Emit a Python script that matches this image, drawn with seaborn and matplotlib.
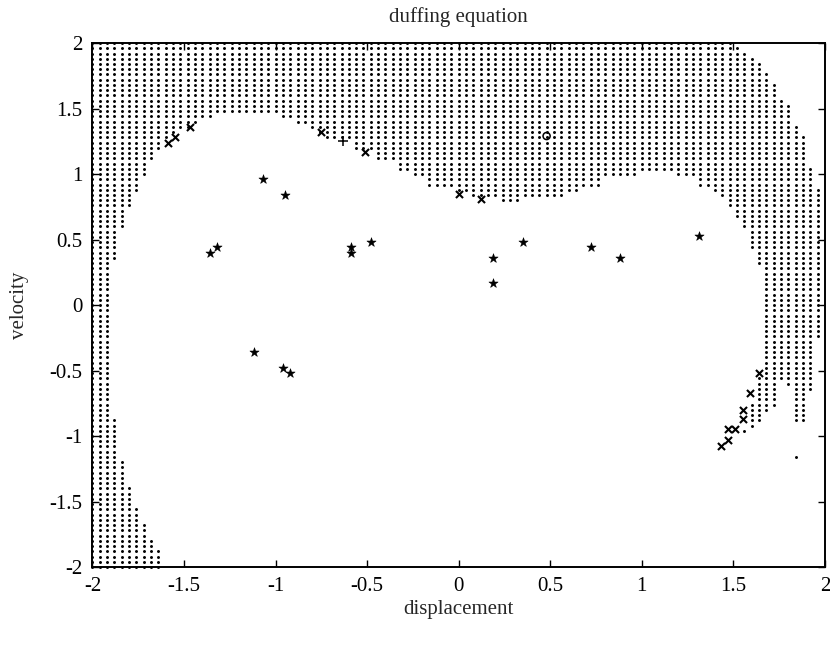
import numpy as np
import pandas as pd
import matplotlib
matplotlib.use("Agg")
import matplotlib.pyplot as plt
import seaborn as sns

# ---------------- data ----------------
tick_values = [-2, -1.5, -1, -0.5, 0, 0.5, 1, 1.5, 2]
tick_labels = ['-2', '-1.5', '-1', '-0.5', '0', '0.5', '1', '1.5', '2']

# basin grid: columns x = -2 + 0.04k (k = 0..100), rows y = -2 + 0.04j
# lowest dotted row of the upper (top) region in each column
upper_low = ([-2.0] * 3 +
             [0.36, 0.60, 0.76, 0.88, 1.00, 1.12, 1.20, 1.28, 1.32, 1.36, 1.36, 1.40, 1.44, 1.44] +
             [1.48] * 9 + [1.44] * 2 + [1.40] * 2 + [1.36, 1.32] + [1.28] * 4 +
             [1.20] * 3 + [1.12] * 3 + [1.04] * 2 + [1.00] * 2 + [0.92] * 4 +
             [0.88] * 2 + [0.84] * 4 + [0.80] * 3 + [0.84] * 6 + [0.88] * 2 +
             [0.92] * 3 + [1.00] * 5 + [1.04] * 5 + [1.00] * 3 + [0.92] * 2 +
             [0.88, 0.84, 0.76, 0.68, 0.60, 0.44, 0.32] +
             [-0.80, -0.76, -0.56, -0.60, -0.88, -0.88, -0.64, -0.24] + [np.nan])
# highest dotted row of the upper region in each column
upper_high = [2.0] * 88 + [1.96, 1.92, 1.88, 1.84, 1.76, 1.68, 1.56, 1.52,
                           1.36, 1.28, 1.04, 0.88] + [np.nan]
# highest dotted row of the lower-left region (from y = -2 upward)
lowleft_high = [np.nan] * 3 + [-0.88, -1.20, -1.40, -1.56, -1.68, -1.80, -1.88] + [np.nan] * 91
# extra column pieces near the lower-right tip: (column index, low, high)
extra_k = [89, 90, 91]
extra_low = [-0.96, -0.92, -0.88]
extra_high = [-0.96, -0.76, -0.56]
# isolated basin point
lone_x = [1.84]
lone_y = [-1.16]

# final states / markers
star_x = [-1.07, -0.95, -1.32, -1.36, -1.12, -0.96, -0.92, -0.59, -0.59, -0.48,
          0.19, 0.19, 0.35, 0.72, 0.88, 1.31]
star_y = [0.96, 0.84, 0.44, 0.40, -0.36, -0.48, -0.52, 0.44, 0.40, 0.48,
          0.36, 0.17, 0.48, 0.44, 0.36, 0.53]
cross_x = [-1.59, -1.55, -1.47, -0.75, -0.51, 0.00, 0.12,
           1.64, 1.59, 1.55, 1.55, 1.47, 1.51, 1.47, 1.43]
cross_y = [1.24, 1.28, 1.36, 1.32, 1.17, 0.85, 0.81,
           -0.52, -0.67, -0.80, -0.87, -0.95, -0.95, -1.03, -1.08]
plus_x = [-0.63]
plus_y = [1.25]
circle_x = [0.48]
circle_y = [1.29]

# ---------------- build basin table ----------------
grid = np.round(np.linspace(-2, 2, 101), 2)
eps = 1e-6
pts_x, pts_y = [], []
for k, gx in enumerate(grid):
    for gy in grid:
        keep = False
        if not np.isnan(upper_low[k]) and upper_low[k] - eps <= gy <= upper_high[k] + eps:
            keep = True
        if not np.isnan(lowleft_high[k]) and gy <= lowleft_high[k] + eps:
            keep = True
        if k in extra_k:
            i = extra_k.index(k)
            if extra_low[i] - eps <= gy <= extra_high[i] + eps:
                keep = True
        if keep:
            pts_x.append(gx)
            pts_y.append(gy)
pts_x += lone_x
pts_y += lone_y
basin = pd.DataFrame({'x': pts_x, 'y': pts_y})

# ---------------- plot ----------------
sns.set_style("ticks")
plt.rcParams['font.family'] = ['Liberation Serif', 'DejaVu Serif']

fig = plt.figure(figsize=(8.3, 6.45), dpi=100)
ax = fig.add_axes([0.1114, 0.1209, 0.8825, 0.8124])

sns.scatterplot(data=basin, x='x', y='y', s=4.5, color='black', marker='o',
                linewidth=0, ax=ax, legend=False, clip_on=False)
sns.scatterplot(x=star_x, y=star_y, marker='*', s=48, color='black',
                linewidth=0.4, edgecolor='black', ax=ax, legend=False)
sns.scatterplot(x=cross_x, y=cross_y, marker='x', s=26, color='black',
                linewidth=1.5, ax=ax, legend=False)
sns.scatterplot(x=plus_x, y=plus_y, marker='+', s=45, color='black',
                linewidth=1.1, ax=ax, legend=False)
ax.scatter(circle_x, circle_y, marker='o', s=26, facecolors='none',
           edgecolors='black', linewidths=1.1)

ax.set_xlim(-2, 2)
ax.set_ylim(-2, 2)
ax.set_xticks(tick_values)
ax.set_xticklabels(tick_labels)
ax.set_yticks(tick_values)
ax.set_yticklabels(tick_labels)
ax.tick_params(direction='in', top=True, right=True, length=5, width=1.0,
               labelsize=15, colors='black', pad=7)
for sp in ax.spines.values():
    sp.set_visible(True)
    sp.set_linewidth(1.4)
    sp.set_color('black')

ax.set_xlabel('displacement', fontsize=15, labelpad=3)
ax.set_ylabel('velocity', fontsize=15, labelpad=15)
ax.set_title('duffing equation', fontsize=15, pad=15)

fig.savefig('out.png', dpi=100)
